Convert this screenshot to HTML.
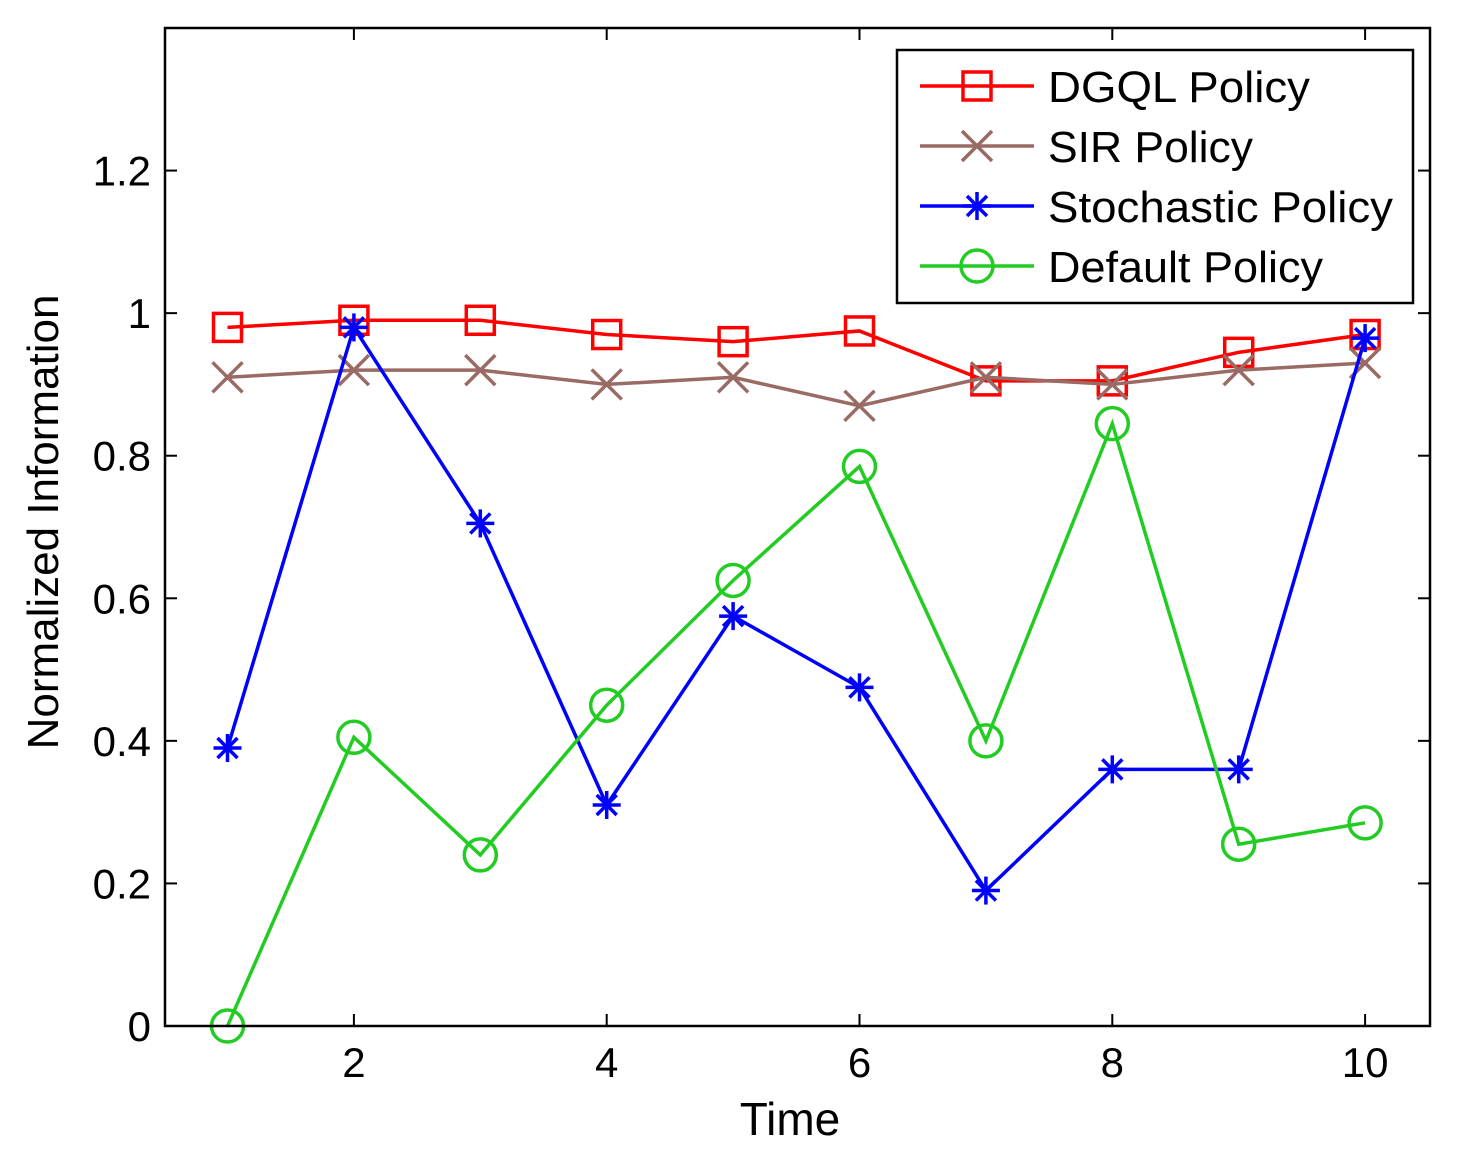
<!DOCTYPE html>
<html><head><meta charset="utf-8"><style>
html,body{margin:0;padding:0;background:#fff}
svg{display:block;font-family:"Liberation Sans",Arial,sans-serif}
</style></head><body>
<svg id="chart" width="1467" height="1161" viewBox="0 0 1467 1161">
<rect x="0" y="0" width="1467" height="1161" fill="#fff"/>
<g id="grid"></g>
<g id="series"></g>
<rect x="165" y="28" width="1265" height="998" fill="none" stroke="#000" stroke-width="2.5"/>
<text x="790" y="1135" font-size="46" text-anchor="middle">Time</text>
<text transform="translate(58,522) rotate(-90)" font-size="44" text-anchor="middle">Normalized Information</text>
<g id="legend">
<rect x="897" y="50" width="516" height="253" fill="#fff" stroke="#000" stroke-width="2.5"/>
</g>
</svg>
<script>
const xVals = [1,2,3,4,5,6,7,8,9,10];
const dgql = [0.98,0.99,0.99,0.97,0.96,0.975,0.905,0.905,0.945,0.97];
const sir = [0.91,0.92,0.92,0.90,0.91,0.87,0.91,0.90,0.92,0.93];
const stochastic = [0.39,0.98,0.705,0.31,0.575,0.475,0.19,0.36,0.36,0.965];
const defaultPolicy = [0,0.405,0.24,0.45,0.625,0.785,0.40,0.845,0.255,0.285];
const xTicks = [2,4,6,8,10];
const yTicks = [0,0.2,0.4,0.6,0.8,1,1.2];
const seriesNames = ["DGQL Policy","SIR Policy","Stochastic Policy","Default Policy"];

const NS="http://www.w3.org/2000/svg";
const X0=165,X1=1430,Y0=1026,Y1=28;
function sx(v){return 227.5+(v-1)*126.4;}
function sy(v){return Y0-v/1.4*(Y0-Y1);}
function mk(t,a,p){const e=document.createElementNS(NS,t);for(const k in a)e.setAttribute(k,a[k]);p.appendChild(e);return e;}
const grid=document.getElementById('grid');
yTicks.forEach(v=>{
  const y=sy(v);
  let l=mk('line',{x1:X0,x2:X0+12,y1:y,y2:y,stroke:'#000','stroke-width':2},grid);
  
  
  l=mk('line',{x1:X1-12,x2:X1,y1:y,y2:y,stroke:'#000','stroke-width':2},grid);
  
  
  const t=mk('text',{x:X0-14,y:y+15,'font-size':42,'text-anchor':'end'},grid);
  t.textContent=String(v);
  
  
});
xTicks.forEach(v=>{
  const x=sx(v);
  let l=mk('line',{x1:x,x2:x,y1:Y0,y2:Y0-12,stroke:'#000','stroke-width':2},grid);
  
  
  l=mk('line',{x1:x,x2:x,y1:Y1,y2:Y1+12,stroke:'#000','stroke-width':2},grid);
  
  
  const t=mk('text',{x:x,y:Y0+51,'font-size':42,'text-anchor':'middle'},grid);
  t.textContent=String(v);
  
  
});
function marker(type,x,y,c,p){
  const g=mk('g',{stroke:c,'stroke-width':3.5,fill:'none'},p);
  if(type==='sq') mk('rect',{x:x-14,y:y-14,width:28,height:28},g);
  else if(type==='x'){mk('line',{x1:x-15,y1:y-15,x2:x+15,y2:y+15},g);mk('line',{x1:x-15,y1:y+15,x2:x+15,y2:y-15},g);}
  else if(type==='star'){mk('line',{x1:x-14,y1:y,x2:x+14,y2:y},g);mk('line',{x1:x,y1:y-14,x2:x,y2:y+14},g);mk('line',{x1:x-10,y1:y-10,x2:x+10,y2:y+10},g);mk('line',{x1:x-10,y1:y+10,x2:x+10,y2:y-10},g);}
  else mk('circle',{cx:x,cy:y,r:16},g);
  return g;
}
const defs=[[dgql,'#ff0000','sq','dgql'],[sir,'#9a6a64','x','sir'],[stochastic,'#0000ff','star','stochastic'],[defaultPolicy,'#22cc22','o','default']];
const sg=document.getElementById('series');
defs.forEach(([d,c,m,n])=>{
  const g=mk('g',{},sg);
  
  
  const pl=mk('polyline',{points:d.map((v,i)=>sx(xVals[i])+','+sy(v)).join(' '),fill:'none',stroke:c,'stroke-width':3.5},g);
  
  
  d.forEach((v,i)=>{
    const mm=marker(m,sx(xVals[i]),sy(v),c,g);
    
    
  });
});
const lg=document.getElementById('legend');
defs.forEach(([d,c,m,n],i)=>{
  const y=86+i*60;
  const g=mk('g',{},lg);
  
  
  mk('line',{x1:920,x2:1034,y1:y,y2:y,stroke:c,'stroke-width':3.5},g);
  marker(m,977,y,c,g);
  const t=mk('text',{x:1048,y:y+16,'font-size':44,textLength:[262,205,345,275][i],lengthAdjust:'spacingAndGlyphs'},g);
  t.textContent=seriesNames[i];
});
</script>
</body></html>
